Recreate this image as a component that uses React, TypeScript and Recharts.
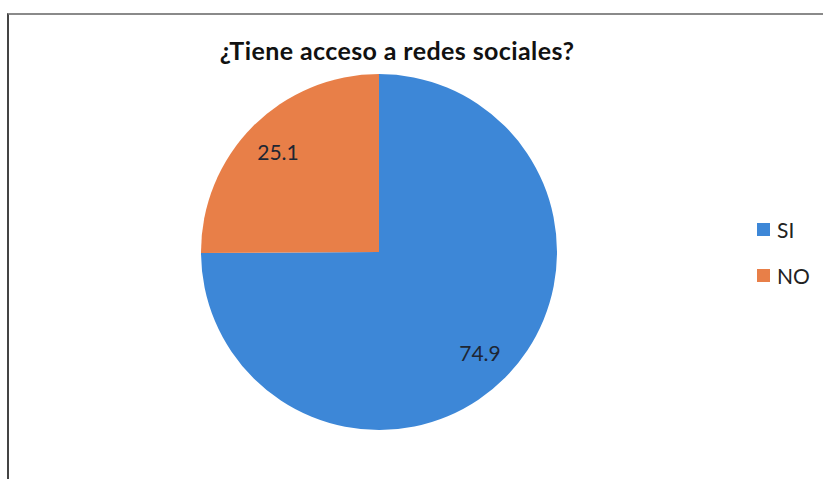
import { Cell, Legend, Pie, PieChart } from "recharts";

const categories = ["SI", "NO"];
const values = [74.9, 25.1];
const COLORS = ["#3d87d7", "#e87f48"];

const data = categories.map((name, i) => ({ name, value: values[i] }));

const RADIAN = Math.PI / 180;

const renderLabel = (props: any) => {
  const { cx, cy, midAngle, outerRadius, value } = props;
  const r = outerRadius * 0.8;
  const x = cx + r * Math.cos(-midAngle * RADIAN);
  const y = cy + r * Math.sin(-midAngle * RADIAN);
  return (
    <text
      x={x}
      y={y}
      fill="#1e2633"
      fontSize={21}
      fontFamily="Lato, sans-serif"
      textAnchor="middle"
      dominantBaseline="central"
    >
      {value}
    </text>
  );
};

const renderLegend = () => (
  <div style={{ fontFamily: "Lato, sans-serif", fontSize: 21, color: "#222" }}>
    {data.map((d, i) => (
      <div
        key={d.name}
        style={{ display: "flex", alignItems: "center", height: 46 }}
      >
        <span
          style={{
            width: 13,
            height: 13,
            background: COLORS[i],
            marginRight: 7,
            display: "inline-block",
          }}
        />
        {d.name}
      </div>
    ))}
  </div>
);

export default function App() {
  return (
    <div
      style={{
        position: "absolute",
        left: 0,
        top: 0,
        width: 823,
        height: 479,
        background: "white",
        overflow: "hidden",
      }}
    >
      <div
        style={{
          position: "absolute",
          left: 7,
          top: 13,
          width: 900,
          height: 500,
          borderTop: "2px solid #8a8a8a",
          borderLeft: "2px solid #444",
        }}
      />
      <div
        style={{
          position: "absolute",
          left: 0,
          width: 794,
          top: 35,
          textAlign: "center",
          fontFamily: "Lato, sans-serif",
          fontWeight: 700,
          fontSize: 25,
          letterSpacing: 0.4,
          color: "#111",
        }}
      >
        ¿Tiene acceso a redes sociales?
      </div>
      <PieChart
        width={823}
        height={479}
        margin={{ top: 0, right: 0, bottom: 0, left: 0 }}
        style={{ position: "absolute", left: 0, top: 0 }}
      >
        <Pie
          data={data}
          dataKey="value"
          nameKey="name"
          cx={379}
          cy={252}
          outerRadius={178}
          startAngle={90}
          endAngle={-270}
          stroke="none"
          label={renderLabel}
          labelLine={false}
          isAnimationActive={false}
        >
          {data.map((d, i) => (
            <Cell key={d.name} fill={COLORS[i]} />
          ))}
        </Pie>
        <Legend
          content={renderLegend}
          wrapperStyle={{ position: "absolute", left: 757, top: 206, width: 66 }}
        />
      </PieChart>
    </div>
  );
}
